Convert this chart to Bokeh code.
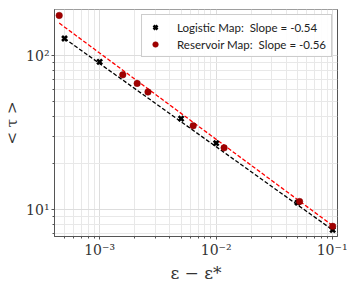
import numpy as np
from bokeh.plotting import figure
from bokeh.models import FixedTicker, Legend, LegendItem, Range1d
from bokeh.embed import file_html
from bokeh.resources import INLINE

# Data
log_eps = [5e-4, 1e-3, 5e-3, 1e-2, 5e-2, 1e-1]
log_tau = [129, 91, 39, 27, 11.1, 7.4]
res_eps = [4.5e-4, 1.58e-3, 2.1e-3, 2.6e-3, 6.35e-3, 1.17e-2, 5.2e-2, 1e-1]
res_tau = [182, 75, 66, 58, 35, 25.2, 11.3, 7.8]
log_fit = {"slope": -0.54, "coef": 2.13}
res_fit = {"slope": -0.56, "coef": 2.17}
labels = ["Logistic Map:  Slope = -0.54", "Reservoir Map:  Slope = -0.56"]
x_major = [1e-3, 1e-2, 1e-1]
x_labels = ["10⁻³", "10⁻²", "10⁻¹"]
y_major = [10, 100]
y_labels = ["10¹", "10²"]

p = figure(frame_width=283, frame_height=227, x_axis_type="log", y_axis_type="log",
           output_backend="svg", toolbar_location=None,
           x_range=Range1d(4.1e-4, 0.11), y_range=Range1d(6.7, 199),
           min_border_left=47, min_border_right=10, min_border_top=9, min_border_bottom=40)
p.background_fill_color = "white"
p.border_fill_color = "white"
p.outline_line_color = "#555555"
p.outline_line_width = 1

def minors(lo, hi):
    out = []
    for d in range(lo, hi):
        for k in range(2, 10):
            out.append(k * 10.0 ** d)
    return out

p.xaxis.ticker = FixedTicker(ticks=x_major, minor_ticks=minors(-4, 0))
p.yaxis.ticker = FixedTicker(ticks=y_major, minor_ticks=minors(0, 3))
p.xaxis.major_label_overrides = {v: l for v, l in zip(x_major, x_labels)}
p.yaxis.major_label_overrides = {v: l for v, l in zip(y_major, y_labels)}
for ax in (p.xaxis, p.yaxis):
    ax.major_label_text_font = "DejaVu Serif"
    ax.major_label_text_font_size = "14px"
    ax.major_label_text_color = "#333333"
    ax.axis_line_color = "#555555"
    ax.major_tick_line_color = "#555555"
    ax.minor_tick_line_color = "#555555"
    ax.major_tick_out = 3
    ax.major_tick_in = 0
    ax.minor_tick_out = 2
    ax.minor_tick_in = 0
    ax.axis_label_text_font = "DejaVu Serif"
    ax.axis_label_text_font_style = "normal"
    ax.axis_label_text_color = "#333333"
p.xaxis.axis_label_text_font_size = "17px"
p.yaxis.axis_label_text_font_size = "15px"
p.xaxis.axis_label = "ε − ε*"
p.yaxis.axis_label = "< τ >"
p.xaxis.major_label_standoff = 2
p.yaxis.major_label_standoff = 2
p.xaxis.axis_label_standoff = 2
p.yaxis.axis_label_standoff = 2

p.grid.grid_line_color = "#dddddd"
p.grid.grid_line_width = 1
p.grid.minor_grid_line_color = "#e8e8e8"
p.grid.minor_grid_line_width = 1

# fit lines
lx = np.array([min(log_eps), max(log_eps)])
rx = np.array([min(res_eps), max(res_eps)])
p.line(lx, log_fit["coef"] * lx ** log_fit["slope"], line_color="black",
       line_dash="4 2", line_width=1.3)
p.line(rx, res_fit["coef"] * rx ** res_fit["slope"], line_color="red",
       line_dash="4 2", line_width=1.3)

r1 = p.scatter(log_eps, log_tau, marker="x", size=7, line_color="black", line_width=2.6)
r2 = p.scatter(res_eps, res_tau, marker="circle", size=6.5, fill_color="#a00000",
               line_color="#8b0000", line_width=0.5)

legend = Legend(items=[LegendItem(label=labels[0], renderers=[r1]),
                       LegendItem(label=labels[1], renderers=[r2])],
                location="top_right")
legend.label_text_font = "Lato"
legend.label_text_font_size = "11.5px"
legend.label_text_color = "#222222"
legend.border_line_color = "#cccccc"
legend.border_line_alpha = 1
legend.background_fill_alpha = 0.9
legend.margin = 5
legend.padding = 5
legend.spacing = 3
legend.glyph_width = 16
legend.glyph_height = 14
legend.label_height = 14
legend.label_standoff = 14
p.add_layout(legend)

open("out.html", "w").write(file_html(p, INLINE))
